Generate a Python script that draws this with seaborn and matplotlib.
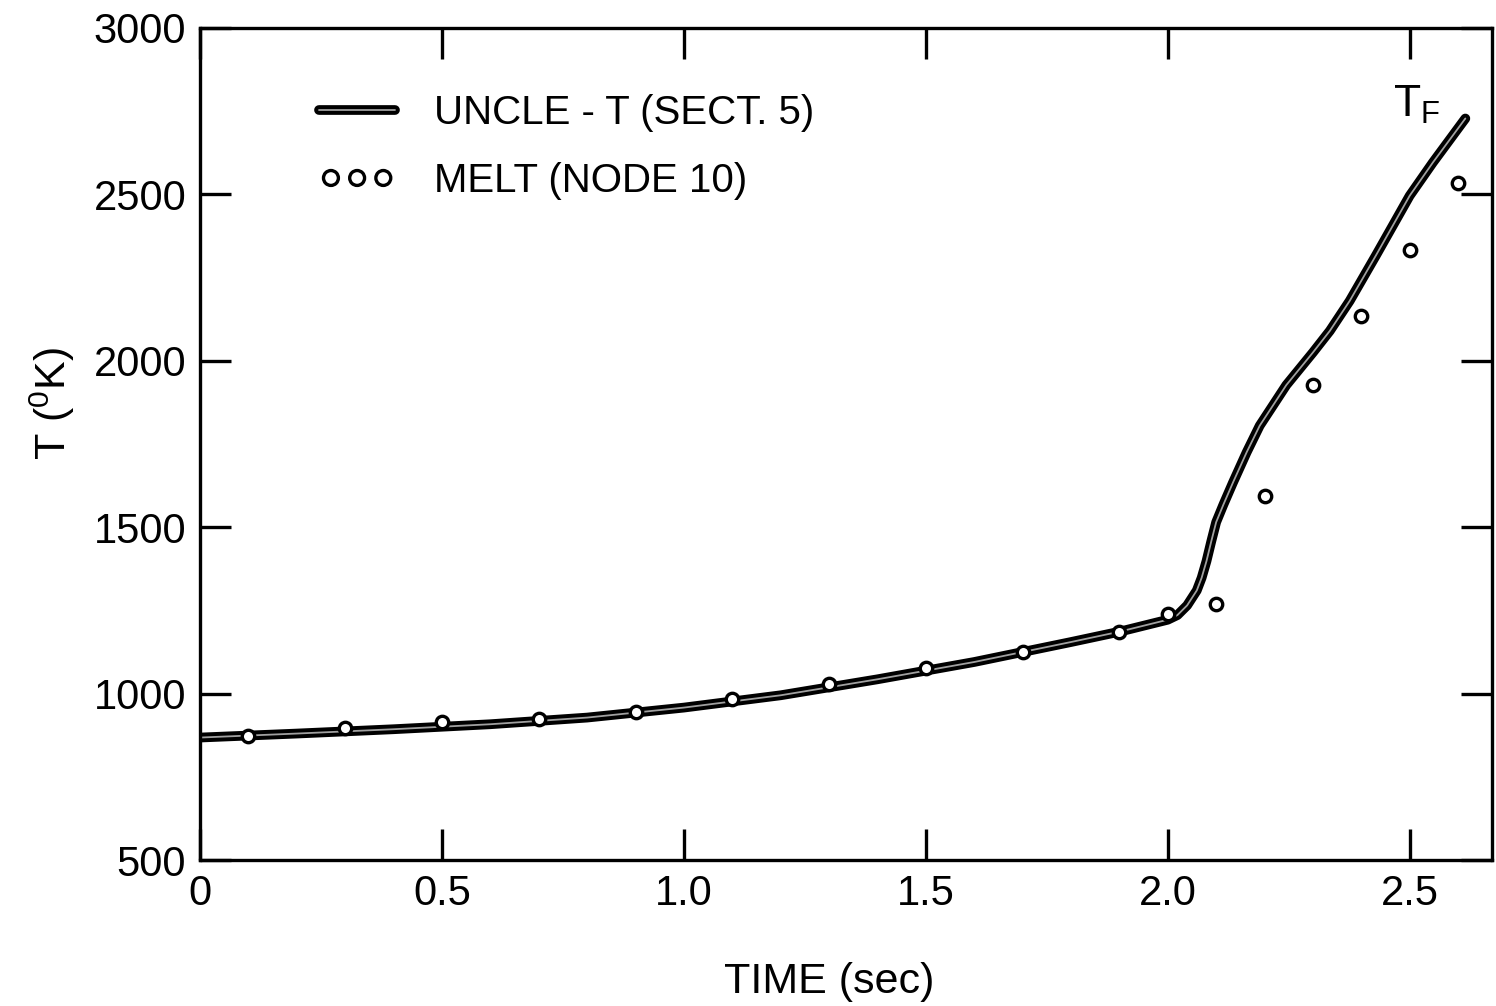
import numpy as np
import matplotlib
matplotlib.use("Agg")
import matplotlib.pyplot as plt
import matplotlib.patheffects as pe
import seaborn as sns

# -------------------------------
# Data
# -------------------------------
uncle_time = [0.0, 0.2, 0.4, 0.6, 0.8, 1.0, 1.2, 1.4, 1.6, 1.8, 1.9, 2.0,
              2.02, 2.04, 2.06, 2.07, 2.08, 2.09, 2.10, 2.115, 2.135, 2.163,
              2.19, 2.245, 2.30, 2.335, 2.376, 2.43, 2.50, 2.548, 2.615]
uncle_temp = [868, 880, 893, 908, 928, 958, 995, 1043, 1095, 1155, 1186, 1222,
              1236, 1265, 1310, 1348, 1398, 1458, 1515, 1568, 1635, 1725,
              1805, 1927, 2025, 2090, 2180, 2316, 2496, 2596, 2728]

melt_time = [0.1, 0.3, 0.5, 0.7, 0.9, 1.1, 1.3, 1.5, 1.7, 1.9,
             2.0, 2.1, 2.2, 2.3, 2.4, 2.5, 2.6]
melt_temp = [874, 898, 914, 925, 944, 985, 1030, 1078, 1126, 1186,
             1240, 1270, 1593, 1926, 2135, 2333, 2534]

x_ticks = [0, 0.5, 1.0, 1.5, 2.0, 2.5]
x_tick_labels = ["0", "0.5", "1.0", "1.5", "2.0", "2.5"]
y_ticks = [500, 1000, 1500, 2000, 2500, 3000]

# -------------------------------
# Style
# -------------------------------
sns.set_style("ticks")
plt.rcParams["font.family"] = ["Liberation Sans", "DejaVu Sans"]
plt.rcParams["mathtext.fontset"] = "custom"
plt.rcParams["mathtext.rm"] = "Liberation Sans"
plt.rcParams["text.color"] = "black"
plt.rcParams["axes.labelcolor"] = "black"
plt.rcParams["xtick.color"] = "black"
plt.rcParams["ytick.color"] = "black"

fig = plt.figure(figsize=(14.96, 10.06), dpi=100)
ax = fig.add_axes([0.1337, 0.1451, 0.8636, 0.8271])

# -------------------------------
# Plot
# -------------------------------
sns.lineplot(x=uncle_time, y=uncle_temp, ax=ax, color="#a0a0a0", lw=1.3,
             label="UNCLE - T (SECT. 5)",
             path_effects=[pe.Stroke(linewidth=7, foreground="black"), pe.Normal()])

sns.scatterplot(x=melt_time, y=melt_temp, ax=ax, marker="o", s=80,
                facecolor="white", edgecolor="black", linewidth=2.4,
                label="MELT (NODE 10)", zorder=3)

ax.set_xlim(0, 2.67)
ax.set_ylim(500, 3000)
ax.set_xticks(x_ticks)
ax.set_xticklabels(x_tick_labels)
ax.set_yticks(y_ticks)

for s in ax.spines.values():
    s.set_visible(True)
    s.set_linewidth(2.4)
    s.set_color("black")

ax.tick_params(direction="in", length=22, width=2.4, top=True, right=True,
               labelsize=30, pad=10)

ax.set_xlabel("TIME (sec)", fontsize=31)
ax.xaxis.set_label_coords(0.487, -0.122)
ax.set_ylabel(r"T ($\mathregular{^0}$K)", fontsize=31)
ax.yaxis.set_label_coords(-0.095, 0.549)

ax.text(2.465, 2770, r"$\mathregular{T_F}$", fontsize=32, ha="left", va="center")

leg = ax.legend(loc="upper left", bbox_to_anchor=(0.0764, 0.945), frameon=False,
                fontsize=29, handlelength=1.9, handletextpad=0.95,
                labelspacing=0.75, borderpad=0, scatterpoints=3,
                scatteryoffsets=[0.5], markerscale=1.2)

fig.savefig("out.png", dpi=100)
